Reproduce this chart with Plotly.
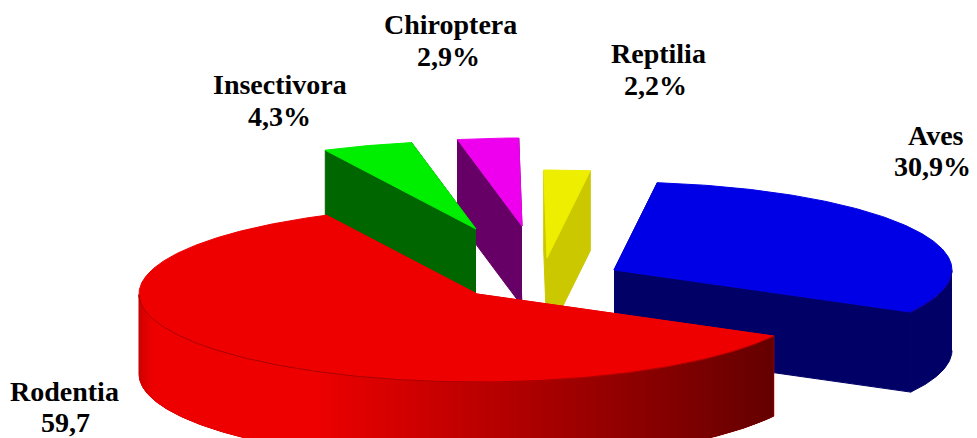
import numpy as np
import plotly.graph_objects as go

# Data, in drawing order round the pie (clockwise on screen)
categories = ["Rodentia", "Insectivora", "Chiroptera", "Reptilia", "Aves"]
values = [59.7, 4.3, 2.9, 2.2, 30.9]
value_labels = ["59,7", "4,3%", "2,9%", "2,2%", "30,9%"]

# Styles and pie geometry
top_colors = ["#EE0000", "#00EE00", "#EE00EE", "#EEEE00", "#0000E6"]
side_colors = ["#EE0000", "#006600", "#660066", "#CCC800", "#000066"]
apexes = [(477, 294), (476, 229), (522, 226), (547, 258), (614, 270)]
RX, RY, DEPTH = 338, 88, 80
START = 28.6
W, H = 977, 438

# Label placement: name centre x/y, value centre x/y
label_pos = [
    (64, 391, 65, 422),
    (280, 84, 279, 116),
    (450, 24, 448, 56),
    (658, 53, 655, 85),
    (936, 135, 932, 166),
]

fig = go.Figure()


def poly(xs, ys, fill, line=None, width=1.0):
    fig.add_trace(go.Scatter(
        x=list(xs), y=list(ys), mode="lines", fill="toself", fillcolor=fill,
        line=dict(color=line or fill, width=width), hoverinfo="skip", showlegend=False))


def red_shade(x):
    """Rim shading of the large slice: bright on the left, dark at the right."""
    if x < 155:
        g = 0.86 + 0.14 * (x - 138) / 17
    elif x < 320:
        g = 1.0
    else:
        g = 1.0 - 0.57 * (x - 320) / (772 - 320)
    return f"rgb({int(238 * g)},0,0)"


angles = START + np.cumsum([0] + values) * 3.6
order = [4, 3, 2, 1, 0]  # far slices first, big front slice last
for i in order:
    a0, a1 = angles[i], angles[i + 1]
    cx, cy = apexes[i]
    t = np.radians(np.linspace(a0, a1, max(int(a1 - a0) * 2, 12)))
    ex, ey = cx + RX * np.cos(t), cy + RY * np.sin(t)

    # Cut faces
    for j in (0, -1):
        poly([cx, ex[j], ex[j], cx], [cy, ey[j], ey[j] + DEPTH, cy + DEPTH], side_colors[i])

    # Outer rim, only where it faces the viewer
    front = np.sin(t) >= 0
    fx, fy = ex[front], ey[front]
    if i == 0:
        # right-to-left bands, each reaching under the next one, so no seams show
        poly(np.r_[fx, fx[::-1]], np.r_[fy, fy[::-1] + DEPTH], "#B00000")
        for k in range(len(fx) - 2, -1, -1):
            k2 = min(k + 3, len(fx) - 1)
            c = red_shade(fx[k])
            xs = np.r_[fx[k:k2 + 1], fx[k:k2 + 1][::-1], fx[k]]
            ys = np.r_[fy[k:k2 + 1], fy[k:k2 + 1][::-1] + DEPTH, fy[k]]
            fig.add_trace(go.Scatter(x=xs, y=ys, mode="lines", fill="toself", fillcolor=c,
                                     line=dict(width=0), hoverinfo="skip", showlegend=False))
    elif len(fx) > 1:
        poly(np.r_[fx, fx[::-1]], np.r_[fy, fy[::-1] + DEPTH], side_colors[i])

    # Top face
    poly(np.r_[cx, ex, cx], np.r_[cy, ey, cy], top_colors[i])

    # Thin dark seam between top and sides
    if len(fx) > 1:
        fig.add_trace(go.Scatter(x=fx, y=fy, mode="lines", hoverinfo="skip", showlegend=False,
                                 line=dict(color="rgba(60,0,0,0.55)", width=0.7)))

for cat, val, (nx, ny, vx, vy) in zip(categories, value_labels, label_pos):
    for text, x, y in ((cat, nx, ny), (val, vx, vy)):
        fig.add_annotation(x=x, y=y, text=f"<b>{text}</b>", showarrow=False,
                           xanchor="center", yanchor="middle",
                           font=dict(family="Liberation Serif", size=28, color="#000000"))

fig.update_layout(
    width=W, height=H, margin=dict(l=0, r=0, t=0, b=0),
    paper_bgcolor="#FFFFFF", plot_bgcolor="#FFFFFF", showlegend=False,
    xaxis=dict(range=[0, W], visible=False, fixedrange=True),
    yaxis=dict(range=[H, 0], visible=False, fixedrange=True),
)
fig.write_html("out.html", config={"displayModeBar": False},
               post_script="document.body.style.margin='0';")
